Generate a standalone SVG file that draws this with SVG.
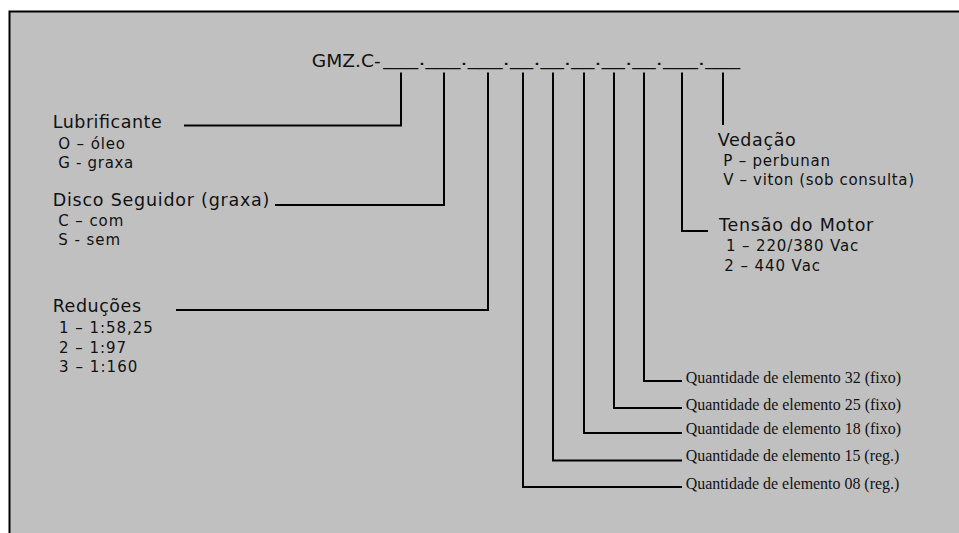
<svg xmlns="http://www.w3.org/2000/svg" width="959" height="533" viewBox="0 0 959 533">
<style>
  .bg { fill: #c0c0c0; stroke: #000; stroke-width: 2; }
  .h { font-family: "DejaVu Sans", Verdana, sans-serif; font-size: 17.5px; fill: #111; }
  .i { font-family: "DejaVu Sans", Verdana, sans-serif; font-size: 15px; fill: #111; }
  .code { font-family: "DejaVu Sans", Verdana, sans-serif; font-size: 17px; fill: #111; }
  .q { font-family: "Liberation Serif", "Times New Roman", serif; font-size: 17px; fill: #111; }
  .conn { fill: none; stroke: #000; stroke-width: 2; }
</style>
<rect x="0" y="0" width="959" height="533" fill="#ffffff"/>
<rect class="bg" x="9.5" y="11.5" width="970" height="540"/>

<g id="code">
  <text class="code" x="311.7" y="66.7" textLength="69" lengthAdjust="spacingAndGlyphs">GMZ.C-</text>
  <text class="code" x="383.3" y="64.5" textLength="356.7" lengthAdjust="spacingAndGlyphs">___.___.___.__.__.__.__.__.___.___</text>
</g>

<g id="connectors">
  <polyline class="conn" points="401,72.5 401,125.5 184,125.5"/>
  <polyline class="conn" points="444,72.5 444,205 275,205"/>
  <polyline class="conn" points="488,72.5 488,310 176,310"/>
  <polyline class="conn" points="523,72.5 523,487 682,487"/>
  <polyline class="conn" points="553,72.5 553,460.5 682,460.5"/>
  <polyline class="conn" points="584,72.5 584,433 682,433"/>
  <polyline class="conn" points="614,72.5 614,408 682,408"/>
  <polyline class="conn" points="644,72.5 644,381 682,381"/>
  <polyline class="conn" points="682,72.5 682,231 708,231"/>
  <line class="conn" x1="723" y1="72.5" x2="723" y2="125"/>
</g>

<g id="lubrificante">
  <text class="h" x="52.7" y="128.3" textLength="109" lengthAdjust="spacing">Lubrificante</text>
  <text class="i" x="58.3" y="149" textLength="66.7" lengthAdjust="spacing">O – óleo</text>
  <text class="i" x="58.3" y="168.3" textLength="75" lengthAdjust="spacing">G - graxa</text>
</g>

<g id="disco">
  <text class="h" x="52.7" y="206" textLength="216.7" lengthAdjust="spacing">Disco Seguidor (graxa)</text>
  <text class="i" x="58.3" y="226" textLength="65" lengthAdjust="spacing">C – com</text>
  <text class="i" x="58.3" y="245.3" textLength="61.7" lengthAdjust="spacing">S - sem</text>
</g>

<g id="reducoes">
  <text class="h" x="52.7" y="312.3" textLength="88.3" lengthAdjust="spacing">Reduções</text>
  <text class="i" x="59" y="333.3" textLength="93.7" lengthAdjust="spacing">1 – 1:58,25</text>
  <text class="i" x="59" y="353.3" textLength="67" lengthAdjust="spacing">2 – 1:97</text>
  <text class="i" x="59" y="372.3" textLength="78.3" lengthAdjust="spacing">3 – 1:160</text>
</g>

<g id="vedacao">
  <text class="h" x="717.7" y="145.7" textLength="78" lengthAdjust="spacing">Vedação</text>
  <text class="i" x="723.3" y="166" textLength="106.7" lengthAdjust="spacing">P – perbunan</text>
  <text class="i" x="723.3" y="185" textLength="190.7" lengthAdjust="spacing">V – viton (sob consulta)</text>
</g>

<g id="tensao">
  <text class="h" x="719" y="230.7" textLength="154.3" lengthAdjust="spacing">Tensão do Motor</text>
  <text class="i" x="726" y="251" textLength="132.3" lengthAdjust="spacing">1 – 220/380 Vac</text>
  <text class="i" x="724.3" y="271" textLength="95.7" lengthAdjust="spacing">2 – 440 Vac</text>
</g>

<g id="q32"><text class="q" x="685.7" y="382.5" textLength="215.3" lengthAdjust="spacingAndGlyphs">Quantidade de elemento 32 (fixo)</text></g>
<g id="q25"><text class="q" x="685.7" y="410" textLength="215.3" lengthAdjust="spacingAndGlyphs">Quantidade de elemento 25 (fixo)</text></g>
<g id="q18"><text class="q" x="685.7" y="433.5" textLength="215.3" lengthAdjust="spacingAndGlyphs">Quantidade de elemento 18 (fixo)</text></g>
<g id="q15"><text class="q" x="685.7" y="461" textLength="213.6" lengthAdjust="spacingAndGlyphs">Quantidade de elemento 15 (reg.)</text></g>
<g id="q08"><text class="q" x="685.7" y="489" textLength="213.6" lengthAdjust="spacingAndGlyphs">Quantidade de elemento 08 (reg.)</text></g>
</svg>
